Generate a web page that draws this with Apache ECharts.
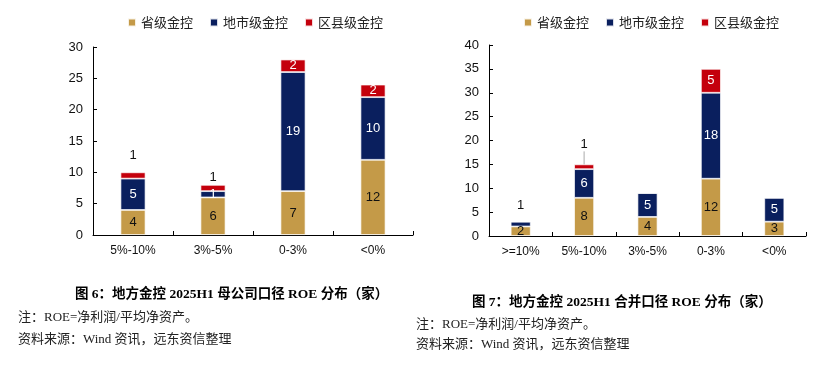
<!DOCTYPE html>
<html>
<head>
<meta charset="utf-8">
<script src="https://cdn.jsdelivr.net/npm/echarts@6/dist/echarts.min.js"></script>
<style>html,body{margin:0;padding:0;background:#fff}#c{width:819px;height:366px}</style>
</head>
<body>
<div id="c"></div>
<script>
// ---- data ----
var seriesNames = ['省级金控', '地市级金控', '区县级金控'];
var catsL = ['5%-10%', '3%-5%', '0-3%', '<0%'];
var provL = [4, 6, 7, 12];
var cityL = [5, 1, 19, 10];
var countyL = [1, 1, 2, 2];
var catsR = ['>=10%', '5%-10%', '3%-5%', '0-3%', '<0%'];
var provR = [2, 8, 4, 12, 3];
var cityR = [1, 6, 5, 18, 5];
var countyR = [0, 1, 0, 5, 0];
var yTicksL = {min: 0, max: 30, interval: 5};
var yTicksR = {min: 0, max: 40, interval: 5};

// ---- styling ----
var colors = ['#C49A48', '#0A1F5E', '#C4000C'];
var labelColors = ['#111', '#fff', '#fff'];
var numFont = 'Liberation Sans, Arial, sans-serif';
var cjkFont = 'Noto Sans CJK SC, sans-serif';
var capFont = 'Liberation Serif, Noto Sans CJK SC, serif';

// offsets for labels placed above small top segments (chart, dataIndex) -> distance
var topDist = {L: {0: 10, 1: 1}, R: {0: 10, 1: 3}};
var leaderIdx = {R: 1};

function buildSeries(side, arrs, axisIdx, barW) {
  var out = [];
  arrs.forEach(function (arr, si) {
    var data = arr.map(function (v, i) {
      var isTop = true;
      for (var k = si + 1; k < arrs.length; k++) if (arrs[k][i] > 0) isTop = false;
      var item = {value: v};
      if (isTop && v <= 1 && v > 0) {
        item.label = {position: 'top', color: '#111', distance: topDist[side][i] || 5};
      }
      return item;
    });
    var s = {
      name: seriesNames[si],
      type: 'bar',
      stack: 'st' + side,
      xAxisIndex: axisIdx,
      yAxisIndex: axisIdx,
      barWidth: barW,
      data: data,
      itemStyle: {color: colors[si], borderColor: 'rgba(255,255,255,0.85)', borderWidth: 0.8},
      label: {
        show: true,
        position: 'inside',
        color: labelColors[si],
        fontFamily: numFont,
        fontSize: 13,
        formatter: function (p) { return p.value ? String(p.value) : ''; }
      }
    };
    if (side === 'R' && si === 2) {
      s.labelLine = {show: true, length2: 0, lineStyle: {color: '#aaa', width: 1}};
      s.labelLayout = function (p) {
        return p.dataIndex === leaderIdx.R ? {dy: -10} : {};
      };
    }
    out.push(s);
  });
  return out;
}

function xAxis(cats, gi) {
  return {
    type: 'category', gridIndex: gi, data: cats,
    axisLine: {lineStyle: {color: '#000', width: 1}},
    axisTick: {show: true, inside: true, length: 4, alignWithLabel: false, lineStyle: {color: '#000'}},
    axisLabel: {color: '#111', fontFamily: numFont, fontSize: 12, margin: 10}
  };
}
function yAxis(t, gi) {
  return {
    type: 'value', gridIndex: gi, min: t.min, max: t.max, interval: t.interval,
    axisLine: {show: true, lineStyle: {color: '#000', width: 1}},
    axisTick: {show: true, inside: true, length: 4, lineStyle: {color: '#000'}},
    splitLine: {show: false},
    axisLabel: {color: '#111', fontFamily: numFont, fontSize: 13, margin: 10}
  };
}
function legend(left) {
  return {
    left: left, top: 11, itemWidth: 8, itemHeight: 8, itemGap: 16, icon: 'rect',
    textStyle: {fontFamily: cjkFont, fontSize: 13, color: '#222'},
    data: seriesNames, selectedMode: false
  };
}
function capText(x, y, txt, bold, color, size) {
  return {
    type: 'text', left: x, top: y,
    style: {text: txt, font: (bold ? 'bold ' : '') + (size || 13) + 'px ' + capFont, fill: color}
  };
}

var chart = echarts.init(document.getElementById('c'), null, {renderer: 'canvas'});
chart.setOption({
  animation: false,
  backgroundColor: '#fff',
  legend: [legend(122), legend(518)],
  grid: [
    {left: 93, top: 47, width: 320, height: 188},
    {left: 489, top: 45, width: 317, height: 191}
  ],
  xAxis: [xAxis(catsL, 0), xAxis(catsR, 1)],
  yAxis: [yAxis(yTicksL, 0), yAxis(yTicksR, 1)],
  series: buildSeries('L', [provL, cityL, countyL], 0, 25).concat(buildSeries('R', [provR, cityR, countyR], 1, 20)),
  graphic: [
    capText(75, 288, '图 6：地方金控 2025H1 母公司口径 ROE 分布（家）', true, '#000', 13.5),
    capText(18, 311, '注：ROE=净利润/平均净资产。', false, '#222'),
    capText(18, 333, '资料来源：Wind 资讯，远东资信整理', false, '#222'),
    capText(472, 296, '图 7：地方金控 2025H1 合并口径 ROE 分布（家）', true, '#000', 13.5),
    capText(416, 318, '注：ROE=净利润/平均净资产。', false, '#222'),
    capText(416, 338, '资料来源：Wind 资讯，远东资信整理', false, '#222')
  ]
});
</script>
</body>
</html>
